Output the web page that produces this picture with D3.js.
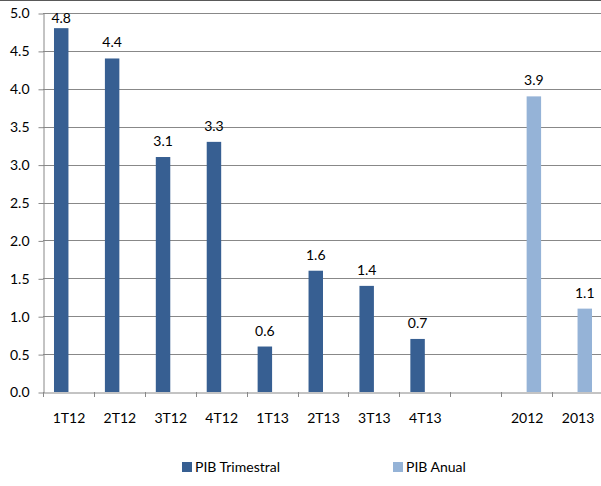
<!DOCTYPE html>
<html><head><meta charset="utf-8">
<script src="https://cdn.jsdelivr.net/npm/d3@7"></script>
<style>body{margin:0;background:#fff}svg{display:block}text{font-family:Lato,"Liberation Sans",sans-serif;fill:#000}</style>
</head><body><svg id="c" width="601" height="486"></svg>
<script>
const categories = ["1T12","2T12","3T12","4T12","1T13","2T13","3T13","4T13","","2012","2013"];
const trimestral = [4.8,4.4,3.1,3.3,0.6,1.6,1.4,0.7,null,null,null];
const anual = [null,null,null,null,null,null,null,null,null,3.9,1.1];
const yTicks = [0,0.5,1,1.5,2,2.5,3,3.5,4,4.5,5];
const seriesNames = ["PIB Trimestral","PIB Anual"];
const colors = ["#375F92","#95B3D7"];

const svg = d3.select("#c");
const W = 601, H = 486;
const m = {left:43, right:603, top:13, bottom:392};
const FONT = "Lato, Liberation Sans, sans-serif";

svg.append("line").attr("x1",0).attr("x2",W).attr("y1",0.5).attr("y2",0.5).attr("stroke","#595959").attr("stroke-width",1);

const x = d3.scaleBand().domain(categories.map((c,i)=>i)).range([m.left,m.right]).paddingInner(0).paddingOuter(0);
const x1 = d3.scaleBand().domain([0,1]).range([0,x.bandwidth()]).paddingInner(0).paddingOuter(0.76);
const y = d3.scaleLinear().domain([0,5]).range([m.bottom,m.top]);

// gridlines
svg.append("g").selectAll("line").data(yTicks.filter(d=>d>0)).join("line")
  .attr("x1",m.left).attr("x2",W).attr("y1",d=>Math.round(y(d))+0.5).attr("y2",d=>Math.round(y(d))+0.5)
  .attr("stroke","#888888").attr("stroke-width",1);

// y axis
const ya = svg.append("g").attr("transform",`translate(${m.left+0.5},0.5)`)
  .call(d3.axisLeft(y).tickValues(yTicks).tickFormat(d3.format(".1f")).tickSize(5).tickSizeOuter(0));
ya.select(".domain").attr("stroke","#888888");
ya.selectAll(".tick line").attr("stroke","#888888");
ya.selectAll(".tick text").attr("x",-14).style("font-size","14px").style("font-family",FONT);

// x axis
const xa = svg.append("g").attr("transform",`translate(0.5,${Math.round(m.bottom)+0.5})`)
  .call(d3.axisBottom(x).tickFormat(i=>categories[i]).tickSize(0).tickSizeOuter(0));
xa.select(".domain").attr("stroke","#888888");
xa.selectAll(".tick text").attr("dy",0).attr("y",30).style("font-size","14px").style("font-family",FONT);
svg.append("g").selectAll("line").data(d3.range(categories.length+1)).join("line")
  .attr("x1",i=>Math.round(m.left + i*x.step())+0.5).attr("x2",i=>Math.round(m.left + i*x.step())+0.5)
  .attr("y1",m.bottom).attr("y2",m.bottom+5).attr("stroke","#888888");

// bars
const series = [trimestral, anual];
series.forEach((vals,s)=>{
  const g = svg.append("g");
  const data = vals.map((v,i)=>({v,i})).filter(d=>d.v!=null);
  g.selectAll("rect").data(data).join("rect")
    .attr("x",d=>x(d.i)+x1(s)).attr("width",x1.bandwidth())
    .attr("y",d=>y(d.v)).attr("height",d=>y(0)-y(d.v)).attr("fill",colors[s]);
  g.selectAll("text").data(data).join("text")
    .attr("x",d=>x(d.i)+x1(s)+x1.bandwidth()/2).attr("y",d=>Math.max(y(d.v)-11, 23))
    .attr("text-anchor","middle").style("font-size","14px").text(d=>d.v.toFixed(1));
});

// legend
const leg = [{x:182,s:0},{x:393,s:1}];
leg.forEach(l=>{
  svg.append("rect").attr("x",l.x).attr("y",462).attr("width",10).attr("height",10).attr("fill",colors[l.s]);
  svg.append("text").attr("x",l.x+13).attr("y",472).style("font-size","14px").text(seriesNames[l.s]);
});
</script></body></html>
